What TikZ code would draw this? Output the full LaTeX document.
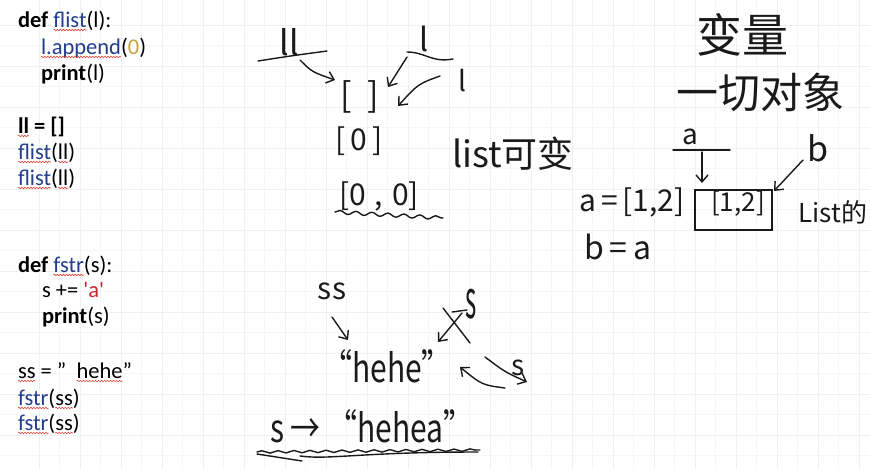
\documentclass[tikz,border=0pt]{standalone}
\usepackage{fontspec}
\newfontfamily\codefont[Ligatures=TeXOff]{Carlito}
\newfontfamily\hand{Noto Sans CJK SC}
\usetikzlibrary{arrows.meta,decorations.pathmorphing}
\definecolor{cblue}{HTML}{233E8E}
\definecolor{cgold}{HTML}{C9A23F}
\definecolor{cred}{HTML}{C62828}
\definecolor{spell}{HTML}{E0463C}
\definecolor{gridc}{HTML}{ECF2F2}
\definecolor{gridm}{HTML}{F4F7F7}
\definecolor{ink}{HTML}{1A1A1A}
\newcommand\spellu[1]{\draw[spellwave] ([yshift=-3pt]#1.base west) -- ([yshift=-3pt]#1.base east);}
\tikzset{
  code/.style={font=\codefont\fontsize{22.5}{27}\selectfont, anchor=base west, inner sep=0pt, outer sep=0pt, text=black},
  spellwave/.style={draw=spell, line width=0.6pt, decorate, decoration={snake, amplitude=0.8pt, segment length=3pt}},
  hand/.style={font=\hand\fontsize{#1}{#1}\selectfont, text=ink, inner sep=0pt},
  hw/.style={draw=ink, line width=1.4pt, line cap=round, line join=round},
  hwa/.style={hw, -{Straight Barb[length=7pt,width=12pt]}},
  hwave/.style={hw, decorate, decoration={snake, amplitude=#1, segment length=16pt}},
}
\begin{document}
\begin{tikzpicture}[x=1pt,y=-1pt]
\useasboundingbox (0,0) rectangle (870,469);
\fill[white] (0,0) rectangle (870,469);
% faint grid
\foreach \x in {59.5,100.5,...,870} \draw[gridm, line width=0.5pt] (\x,0) -- (\x,469);
\foreach \y in {45.5,86.5,...,469} \draw[gridm, line width=0.5pt] (0,\y) -- (870,\y);
\foreach \x in {39,80,...,870} \draw[gridc, line width=0.6pt] (\x,0) -- (\x,469);
\foreach \y in {25,66,...,469} \draw[gridc, line width=0.6pt] (0,\y) -- (870,\y);

% ---------- code block 1 ----------
\node[code] (d1) at (18,27) {\textbf{def}\ \mbox{}};
\node[code,text=cblue] (f1) at (d1.base east) {flist};
\node[code] (r1) at (f1.base east) {(l):};
\node[code,text=cblue] (ap) at (41,54) {l.append};
\node[code] (ap2) at (ap.base east) {(\textcolor{cgold}{0})};
\node[code] (pr1) at (41,80) {\textbf{print}(l)};
\node[code] (ll0) at (18,133) {\textbf{ll}};
\node[code] (ll0b) at (ll0.base east) {\textbf{\ =\ []}};
\node[code,text=cblue] (f2) at (18,159) {flist};
\node[code] (f2a) at (f2.base east) {(};
\node[code] (f2b) at (f2a.base east) {ll};
\node[code] (f2c) at (f2b.base east) {)};
\node[code,text=cblue] (f3) at (18,185) {flist};
\node[code] (f3a) at (f3.base east) {(};
\node[code] (f3b) at (f3a.base east) {ll};
\node[code] (f3c) at (f3b.base east) {)};

% ---------- code block 2 ----------
\node[code] (d2) at (18,272) {\textbf{def}\ \mbox{}};
\node[code,text=cblue] (fs1) at (d2.base east) {fstr};
\node[code] (r2) at (fs1.base east) {(s):};
\node[code] (sa) at (42,297) {s += \textcolor{cred}{'a'}};
\node[code] (pr2) at (42,323) {\textbf{print}(s)};
\node[code] (ss0) at (18,378) {ss};
\node[code] (ss0b) at (ss0.base east) {\ =\ ”\ \ \mbox{}};
\node[code] (hh) at (ss0b.base east) {hehe};
\node[code] (hhq) at (hh.base east) {”};
\node[code,text=cblue] (fs2) at (18,405) {fstr};
\node[code] (fs2a) at (fs2.base east) {(};
\node[code] (fs2b) at (fs2a.base east) {ss};
\node[code] (fs2c) at (fs2b.base east) {)};
\node[code,text=cblue] (fs3) at (18,430) {fstr};
\node[code] (fs3a) at (fs3.base east) {(};
\node[code] (fs3b) at (fs3a.base east) {ss};
\node[code] (fs3c) at (fs3b.base east) {)};

\spellu{f1}\spellu{ap}\spellu{ll0}\spellu{f2}\spellu{f2b}\spellu{f3}\spellu{f3b}
\spellu{fs1}\spellu{ss0}\spellu{hh}\spellu{fs2}\spellu{fs2b}\spellu{fs3}\spellu{fs3b}

% ---------- list notes ----------
\node[hand=34] (ll) at (289,42) {ll};
\draw[hw] (258,61) .. controls (290,56) .. (327,51);
\node[hand=34] (empty) at (360,97) {[\hspace{16pt}]};
\node[hand=32] (l1) at (424,39) {l};
\draw[hw] (407,52) .. controls (425,52) and (432,63) .. (453,59);
\node[hand=28] (l2) at (462,81) {l};
\coordinate (a1s) at (300,60); \coordinate (a1e) at (335,80);
\draw[hwa] (a1s) .. controls (312,72) .. (a1e);
\coordinate (a2s) at (407,57); \coordinate (a2e) at (388,87);
\draw[hwa] (a2s) -- (a2e);
\coordinate (a3s) at (440,76); \coordinate (a3e) at (398,106);
\draw[hwa] (a3s) .. controls (418,84) .. (a3e);
\node[hand=30] (z1) at (359,141) {[\,0\,]};
\node[hand=30] (z2) at (379,196) {[0\hspace{9pt},\hspace{9pt}0]};
\draw[hwave=1.8pt] (335,212) -- (443,218);
\node[hand=36] (mut) at (513,154) {list可变};

% ---------- variable notes ----------
\node[hand=46] (var) at (742,35) {变量};
\node[hand=42] (all) at (760,92) {一切对象};
\node[hand=28] (la) at (690,137) {a};
\draw[hw] (673,150) -- (730,150);
\node[hand=34] (lb) at (818,148) {b};
\node[hand=30] (aeq) at (632,202) {a\,=\,[1,2]};
\node[draw=ink, line width=1.4pt, minimum width=77pt, minimum height=40pt, inner sep=0pt] (box) at (733.5,210) {};
\node[hand=26] (v12) at (738,204) {[1,2]};
\node[hand=26] (lst) at (833,212) {List的};
\node[hand=32] (beq) at (618,247) {b\,=\,a};
\coordinate (a4s) at (702,152); \coordinate (a4e) at (702,183);
\draw[hwa] (a4s) -- (a4e);
\coordinate (a5s) at (803,160); \coordinate (a5e) at (774,191);
\draw[hwa] (a5s) -- (a5e);

% ---------- string notes ----------
\node[hand=30] (ssl) at (332,291) {ss};
\coordinate (a6s) at (332,317); \coordinate (a6e) at (348,340);
\draw[hwa] (a6s) -- (a6e);
\node[hand=24] (sx) at (471,304) {\scalebox{1}[2.2]{s}};
\draw[hw] (443,308) -- (470,343);
\draw[hw] (452,312) -- (467,310);
\coordinate (a7s) at (462,313); \coordinate (a7e) at (438,342);
\draw[hwa] (a7s) -- (a7e);
\node[hand=30] (hehe) at (387,366) {\scalebox{1}[1.3]{“hehe”}};
\node[hand=28] (s2) at (518,368) {s};
\coordinate (a8s) at (485,357); \coordinate (a8e) at (527,382);
\draw[hwa] (a8s) .. controls (505,372) .. (a8e);
\coordinate (a9s) at (505,388); \coordinate (a9e) at (460,367);
\draw[hwa] (a9s) .. controls (482,385) .. (a9e);
\node[hand=30] (res) at (372,426) {\scalebox{1}[1.3]{s → “hehea”}};
\draw[hwave=1.2pt] (257,452) -- (480,450);
\draw[hw] (300,456) .. controls (330,460) and (360,452) .. (478,452);
\draw[hw] (257,454) -- (302,461);
\end{tikzpicture}
\end{document}
